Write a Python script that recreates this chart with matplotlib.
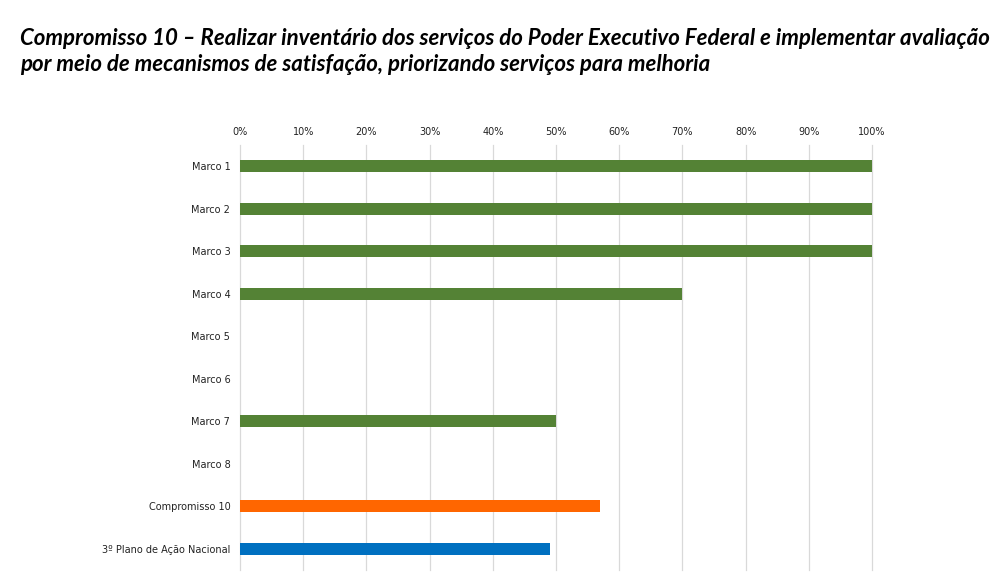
import matplotlib.pyplot as plt
import matplotlib.ticker as mticker
import numpy as np

categories = ['Marco 1', 'Marco 2', 'Marco 3', 'Marco 4', 'Marco 5', 'Marco 6',
              'Marco 7', 'Marco 8', 'Compromisso 10', '3º Plano de Ação Nacional']
values = [1.00, 1.00, 1.00, 0.70, 0.0, 0.0, 0.50, 0.0, 0.57, 0.49]
colors = ['#548235'] * 8 + ['#FF6600', '#0070C0']
title = ('Compromisso 10 – Realizar inventário dos serviços do Poder Executivo Federal e implementar avaliação\n'
         'por meio de mecanismos de satisfação, priorizando serviços para melhoria')

fig = plt.figure(figsize=(10, 5.86), dpi=100)
ax = fig.add_axes([0.24, 0.0273, 0.632, 0.7253])

y = np.arange(len(categories))
ax.barh(y, values, height=0.29, color=colors, zorder=3)

ax.set_xlim(0, 1)
ax.set_ylim(len(categories) - 0.5, -0.5)
ax.set_yticks(y)
ax.set_yticklabels(categories, fontsize=7, color='#222222')
ax.xaxis.set_major_locator(mticker.MultipleLocator(0.1))
ax.xaxis.set_major_formatter(mticker.FuncFormatter(lambda v, _: f'{v*100:.0f}%'))
ax.xaxis.tick_top()
ax.tick_params(axis='x', labelsize=7, length=0, pad=6, colors='#222222')
ax.tick_params(axis='y', length=0, pad=7)
ax.xaxis.grid(True, color='#d9d9d9', linewidth=0.9, zorder=0)
for line in ax.get_xgridlines():
    line.set_clip_on(False)
for s in ax.spines.values():
    s.set_visible(False)

fig.text(0.02, 0.952, title, fontsize=16, fontweight='bold', style='italic',
         family=['Lato', 'DejaVu Sans'], va='top', ha='left', linespacing=1.3)

fig.savefig('out.png', dpi=100)
